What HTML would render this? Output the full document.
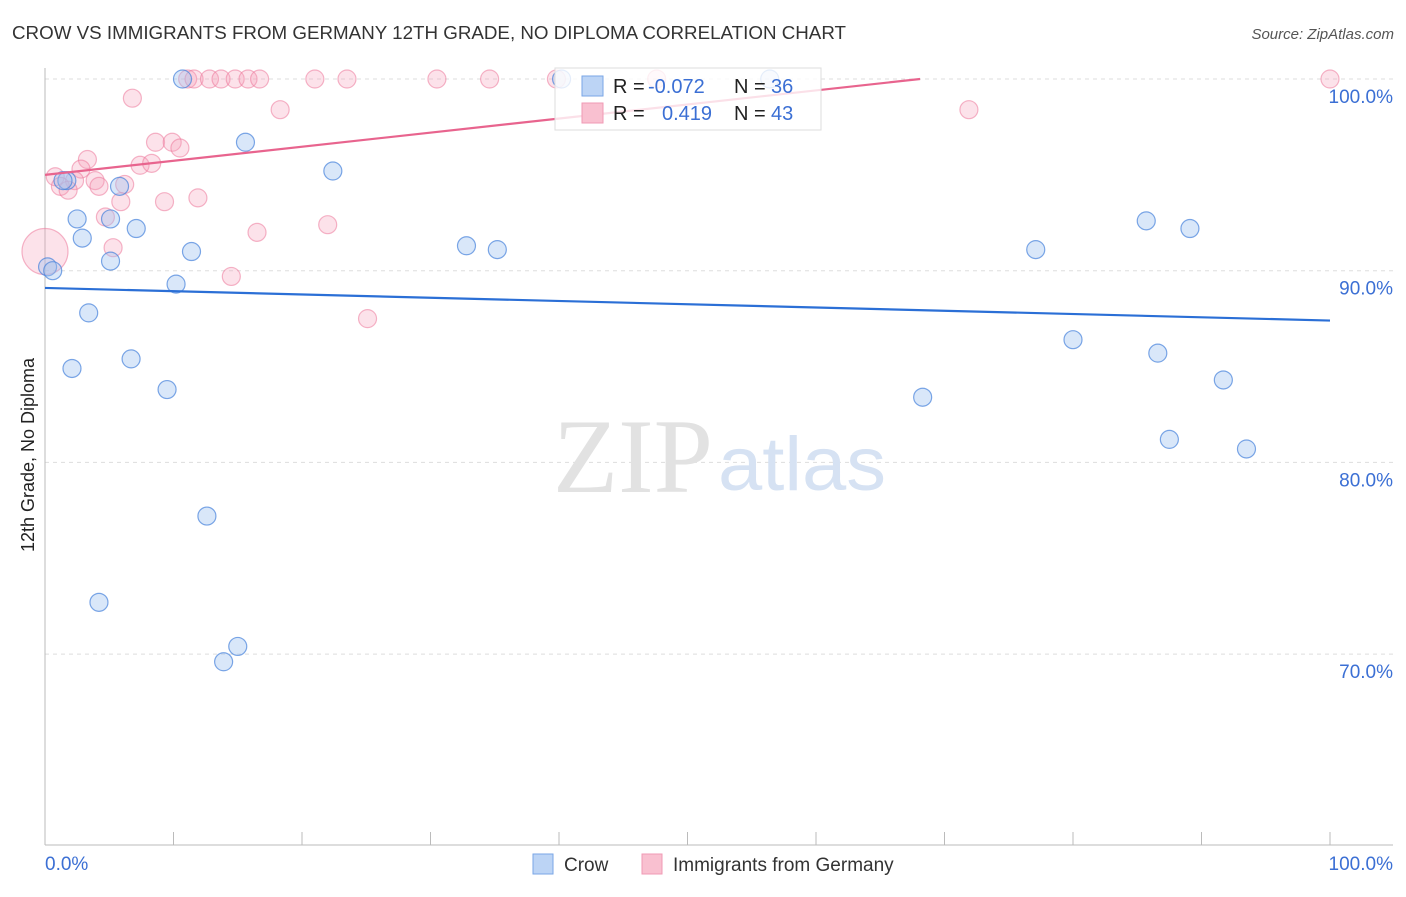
<!DOCTYPE html>
<html><head><meta charset="utf-8"><style>
body{margin:0;background:#fff;font-family:"Liberation Sans",sans-serif;}
</style></head><body>
<svg width="1406" height="892" xmlns="http://www.w3.org/2000/svg" font-family="Liberation Sans, sans-serif">
<text x="12" y="39" font-size="18" fill="#333" textLength="834" lengthAdjust="spacingAndGlyphs">CROW VS IMMIGRANTS FROM GERMANY 12TH GRADE, NO DIPLOMA CORRELATION CHART</text>
<text x="1394" y="39" font-size="15" fill="#555" font-style="italic" text-anchor="end">Source: ZipAtlas.com</text>
<g id="grid"></g>
<line x1="45" y1="68" x2="45" y2="845" stroke="#bbb"/>
<line x1="45" y1="845" x2="1393" y2="845" stroke="#bbb"/>
<g id="xticks"></g>
<text x="45" y="870" font-size="19" fill="#3b6fd4">0.0%</text>
<text x="1393" y="870" font-size="19" fill="#3b6fd4" text-anchor="end">100.0%</text>
<text transform="translate(34,455) rotate(-90)" font-size="18" fill="#222" text-anchor="middle">12th Grade, No Diploma</text>
<text x="553" y="492" font-size="106" fill="#e2e2e2" font-family="Liberation Serif, serif" textLength="160" lengthAdjust="spacingAndGlyphs">ZIP</text>
<text x="718" y="490" font-size="76" fill="#d6e2f3" textLength="168" lengthAdjust="spacingAndGlyphs">atlas</text>
<g id="pts"></g>
<g id="lines"></g>
<g>
<rect x="555" y="68" width="266" height="62" fill="rgba(255,255,255,0.8)" stroke="#ddd"/>
<rect x="582" y="76" width="21" height="20" fill="#bcd4f5" stroke="#7aa6e6"/>
<rect x="582" y="103" width="21" height="20" fill="#f9c0d0" stroke="#f09ab4"/>
<text x="613" y="93" font-size="20" fill="#222">R = <tspan x="648" fill="#3b6fd4">-0.072</tspan><tspan x="734">N = </tspan><tspan x="771" fill="#3b6fd4">36</tspan></text>
<text x="613" y="120" font-size="20" fill="#222">R = <tspan x="662" fill="#3b6fd4">0.419</tspan><tspan x="734">N = </tspan><tspan x="771" fill="#3b6fd4">43</tspan></text>
</g>
<g>
<rect x="533" y="854" width="20" height="20" fill="#bcd4f5" stroke="#7aa6e6"/>
<text x="564" y="871" font-size="19" fill="#333">Crow</text>
<rect x="642" y="854" width="20" height="20" fill="#f9c0d0" stroke="#f09ab4"/>
<text x="673" y="871" font-size="19" fill="#333">Immigrants from Germany</text>
</g>
</svg>
<script>
const yTicks=[100,90,80,70];
const yTickLabels=["100.0%","90.0%","80.0%","70.0%"];
const xTicks=[0,10,20,30,40,50,60,70,80,90,100];
const crowX=[10.7,40.2,56.4,15.6,22.4,1.7,5.8,2.5,5.1,2.9,7.1,11.4,5.1,0.2,0.6,10.2,3.4,32.8,35.2,6.7,2.1,9.5,12.6,4.2,15.0,13.9,85.7,89.1,77.1,80.0,86.6,91.7,68.3,87.5,93.5,1.4];
const crowY=[100,100,100,96.7,95.2,94.7,94.4,92.7,92.7,91.7,92.2,91.0,90.5,90.2,90.0,89.3,87.8,91.3,91.1,85.4,84.9,83.8,77.2,72.7,70.4,69.6,92.6,92.2,91.1,86.4,85.7,84.3,83.4,81.2,80.7,94.7];
const gerX=[11.1,11.6,12.8,13.7,14.8,15.8,16.7,21.0,23.5,30.5,34.6,39.8,47.6,100,6.8,18.3,71.9,8.6,9.9,10.5,3.3,7.4,8.3,2.8,0.8,2.3,3.9,4.2,6.2,1.2,1.8,9.3,5.9,11.9,4.7,16.5,22.0,5.3,14.5,25.1,0.0];
const gerY=[100,100,100,100,100,100,100,100,100,100,100,100,100,100,99.0,98.4,98.4,96.7,96.7,96.4,95.8,95.5,95.6,95.3,94.9,94.7,94.7,94.4,94.5,94.4,94.2,93.6,93.6,93.8,92.8,92.0,92.4,91.2,89.7,87.5,91.0];
const blueLine=[[0,89.1],[100,87.4]];
const pinkLine=[[0,95.0],[68.1,100]];
const X=v=>45+v*12.85, Y=v=>79+(100-v)*19.17;
const NS="http://www.w3.org/2000/svg";
function mk(t,a,p){const e=document.createElementNS(NS,t);for(const k in a)e.setAttribute(k,a[k]);document.getElementById(p).appendChild(e);return e;}
yTicks.forEach((t,i)=>{
 const l=mk('line',{x1:45,x2:1393,y1:Y(t),y2:Y(t),stroke:'#ddd','stroke-dasharray':'4,4'},'grid');
 
 
 const tx=mk('text',{x:1393,y:Y(t)+24,'font-size':19,fill:'#3b6fd4','text-anchor':'end'},'grid');
 tx.textContent=yTickLabels[i];
 
 
});
xTicks.forEach(t=>{
 const l=mk('line',{x1:X(t),x2:X(t),y1:832,y2:845,stroke:'#bbb'},'xticks');
 
 
});
gerX.forEach((x,i)=>{
 const c=mk('circle',{cx:X(x),cy:Y(gerY[i]),r:i==gerX.length-1?23:9,fill:'rgba(246,160,185,0.3)',stroke:'rgba(236,120,155,0.55)','stroke-width':1.2},'pts');
 
 
});
crowX.forEach((x,i)=>{
 const c=mk('circle',{cx:X(x),cy:Y(crowY[i]),r:9,fill:'rgba(160,195,240,0.4)',stroke:'rgba(70,130,220,0.7)','stroke-width':1.2},'pts');
 
 
});
const bl=mk('line',{x1:X(blueLine[0][0]),y1:Y(blueLine[0][1]),x2:X(blueLine[1][0]),y2:Y(blueLine[1][1]),stroke:'#2b6fd6','stroke-width':2.2},'lines');


const pl=mk('line',{x1:X(pinkLine[0][0]),y1:Y(pinkLine[0][1]),x2:X(pinkLine[1][0]),y2:Y(pinkLine[1][1]),stroke:'#e8648e','stroke-width':2.2},'lines');


</script>
</body></html>
